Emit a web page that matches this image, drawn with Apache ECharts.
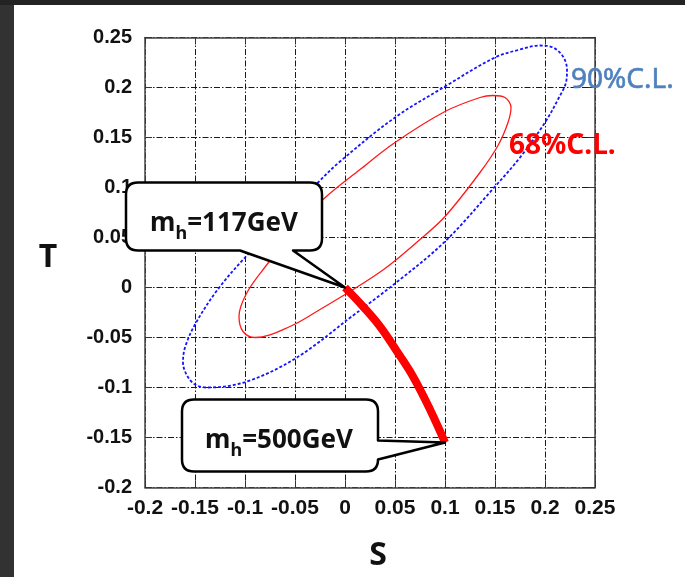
<!DOCTYPE html>
<html>
<head>
<meta charset="utf-8">
<script src="https://cdn.jsdelivr.net/npm/echarts@6/dist/echarts.min.js"></script>
<style>
  html, body { margin: 0; padding: 0; background: #fff; }
  #main { width: 685px; height: 577px; }
</style>
</head>
<body>
<div id="main"></div>
<script>
// 坐标轴刻度
const sTicks = [-0.2, -0.15, -0.1, -0.05, 0, 0.05, 0.1, 0.15, 0.2, 0.25]
const tTicks = [-0.2, -0.15, -0.1, -0.05, 0, 0.05, 0.1, 0.15, 0.2, 0.25]

// 68%C.L. 椭圆 (从图上读的点)
const cl68S = [0.000, 0.040, 0.075, 0.100, 0.135, 0.153, 0.163, 0.166, 0.160, 0.148, 0.135, 0.100, 0.050, 0.015, -0.022, -0.050, -0.078, -0.098, -0.106, -0.102, -0.090, -0.055, -0.025, 0.000]
const cl68T = [-0.007, 0.019, 0.048, 0.071, 0.115, 0.142, 0.165, 0.180, 0.190, 0.192, 0.190, 0.176, 0.145, 0.118, 0.088, 0.058, 0.023, -0.005, -0.029, -0.044, -0.050, -0.039, -0.022, -0.007]

// 90%C.L. 椭圆
const cl90S = [0.000, 0.050, 0.100, 0.150, 0.175, 0.200, 0.214, 0.221, 0.222, 0.218, 0.208, 0.195, 0.175, 0.150, 0.100, 0.050, -0.005, -0.028, -0.055, -0.100, -0.128, -0.150, -0.160, -0.162, -0.158, -0.150, -0.138, -0.098, -0.048, 0.000]
const cl90T = [-0.034, 0.004, 0.046, 0.101, 0.130, 0.165, 0.190, 0.205, 0.218, 0.231, 0.240, 0.242, 0.238, 0.230, 0.201, 0.170, 0.126, 0.104, 0.076, 0.030, -0.003, -0.037, -0.060, -0.075, -0.088, -0.097, -0.100, -0.094, -0.070, -0.034]

// 希格斯质量 117GeV -> 500GeV 的轨迹
const pathS = [0, 0.018, 0.035, 0.052, 0.068, 0.085, 0.100]
const pathT = [0, -0.019, -0.039, -0.064, -0.089, -0.122, -0.155]
const calloutMass = ['117', '500']

const zip = (xs, ys) => xs.map((x, i) => [x, ys[i]])

// 气泡框的形状 (相对尖端的像素偏移)
const calloutBoxes = [
  { side: 'bottom', x0: -219, x1: -23, y0: -105, y1: -37, pa: -105, pb: -52, tx: -121, ty: -64 },
  { side: 'right', x0: -263, x1: -67, y0: -43, y1: 29, pa: -2, pb: 17, tx: -166, ty: -2 }
]

function calloutPath(t, b) {
  const r = 12
  const x0 = t[0] + b.x0, x1 = t[0] + b.x1, y0 = t[1] + b.y0, y1 = t[1] + b.y1
  let d = `M${x0 + r} ${y0} L${x1 - r} ${y0} Q${x1} ${y0} ${x1} ${y0 + r} `
  if (b.side === 'right') {
    d += `L${x1} ${t[1] + b.pa} L${t[0]} ${t[1]} L${x1} ${t[1] + b.pb} `
  }
  d += `L${x1} ${y1 - r} Q${x1} ${y1} ${x1 - r} ${y1} `
  if (b.side === 'bottom') {
    d += `L${t[0] + b.pb} ${y1} L${t[0]} ${t[1]} L${t[0] + b.pa} ${y1} `
  }
  d += `L${x0 + r} ${y1} Q${x0} ${y1} ${x0} ${y1 - r} L${x0} ${y0 + r} Q${x0} ${y0} ${x0 + r} ${y0} Z`
  return d
}

function renderCallout(params, api) {
  const tip = api.coord([api.value(0), api.value(1)])
  const b = calloutBoxes[params.dataIndex]
  return {
    type: 'group',
    children: [
      {
        type: 'path',
        shape: { pathData: calloutPath(tip, b) },
        style: { fill: '#fff', stroke: '#000', lineWidth: 2.5, lineJoin: 'round' }
      },
      {
        type: 'text',
        x: tip[0] + b.tx,
        y: tip[1] + b.ty,
        style: {
          text: `{m|m}{h|h}{m|=${calloutMass[params.dataIndex]}GeV}`,
          align: 'center',
          verticalAlign: 'middle',
          rich: {
            m: { fontSize: 26, fontWeight: 'bold', fontFamily: 'Noto Sans', fill: '#111', lineHeight: 26, verticalAlign: 'top' },
            h: { fontSize: 18, fontWeight: 'bold', fontFamily: 'Noto Sans', fill: '#111', lineHeight: 18, padding: [14, 0, 0, 0], verticalAlign: 'top' }
          }
        }
      }
    ]
  }
}

const tickFmt = v => String(+v.toFixed(2))
const gridLine = { show: true, lineStyle: { color: '#1a1a1a', width: 1, type: [6, 2, 1.5, 2] } }
const frame = { show: true, onZero: false, lineStyle: { color: '#444', width: 1.5 } }
const innerTick = { show: true, inside: true, length: 7, lineStyle: { color: '#333', width: 1 } }

const myChart = echarts.init(document.querySelector('#main'))

const option = {
  animation: false,
  backgroundColor: '#fff',
  grid: { left: 145, top: 37.5, width: 450, height: 450 },
  xAxis: [
    {
      type: 'value', position: 'bottom',
      min: sTicks[0], max: sTicks[sTicks.length - 1], interval: 0.05,
      axisLine: frame, axisTick: innerTick, splitLine: gridLine,
      axisLabel: { formatter: tickFmt, margin: 10, color: '#111', fontSize: 21, fontWeight: 'bold', fontFamily: 'Liberation Sans' }
    },
    {
      type: 'value', position: 'top',
      min: sTicks[0], max: sTicks[sTicks.length - 1], interval: 0.05,
      axisLine: frame, axisTick: innerTick, splitLine: { show: false }, axisLabel: { show: false }
    }
  ],
  yAxis: [
    {
      type: 'value', position: 'left',
      min: tTicks[0], max: tTicks[tTicks.length - 1], interval: 0.05,
      axisLine: frame, axisTick: innerTick, splitLine: gridLine,
      axisLabel: { formatter: tickFmt, margin: 13, color: '#111', fontSize: 20, fontWeight: 'bold', fontFamily: 'Liberation Sans' }
    },
    {
      type: 'value', position: 'right',
      min: tTicks[0], max: tTicks[tTicks.length - 1], interval: 0.05,
      axisLine: frame, axisTick: innerTick, splitLine: { show: false }, axisLabel: { show: false }
    }
  ],
  graphic: [
    { type: 'rect', shape: { x: 0, y: 0, width: 14, height: 577 }, style: { fill: '#323232' }, silent: true },
    { type: 'rect', shape: { x: 0, y: 0, width: 685, height: 5 }, style: { fill: '#232323' }, silent: true },
    { type: 'text', x: 48, y: 258, style: { text: 'T', fontSize: 32, fontWeight: 'bold', fontFamily: 'Noto Sans', fill: '#111', align: 'center', verticalAlign: 'middle' } },
    { type: 'text', x: 378, y: 556, style: { text: 'S', fontSize: 32, fontWeight: 'bold', fontFamily: 'Noto Sans', fill: '#111', align: 'center', verticalAlign: 'middle' } },
    { type: 'text', x: 571, y: 80, z: 10, style: { text: '90%C.L.', fontSize: 28, fontFamily: 'Noto Sans', fill: '#4f81bd', stroke: '#4f81bd', lineWidth: 0.6, align: 'left', verticalAlign: 'middle' } },
    { type: 'text', x: 509, y: 146, z: 10, style: { text: '68%C.L.', fontSize: 28, fontWeight: 'bold', fontFamily: 'Noto Sans', fill: '#ff0000', align: 'left', verticalAlign: 'middle' } }
  ],
  series: [
    {
      name: '90%C.L.', type: 'line', data: zip(cl90S, cl90T),
      smooth: 0.35, showSymbol: false, z: 3,
      lineStyle: { color: '#1414ff', width: 1.8, type: [3, 2] }
    },
    {
      name: '68%C.L.', type: 'line', data: zip(cl68S, cl68T),
      smooth: 0.35, showSymbol: false, z: 4,
      lineStyle: { color: '#ff1a1a', width: 1.3 }
    },
    {
      name: 'mh', type: 'line', data: zip(pathS, pathT),
      smooth: 0.4, showSymbol: false, z: 5,
      lineStyle: { color: '#ff0000', width: 8 }
    },
    {
      name: 'callout', type: 'custom', clip: false, z: 20,
      data: [[pathS[0], pathT[0]], [pathS[pathS.length - 1], pathT[pathT.length - 1]]],
      renderItem: renderCallout
    }
  ]
}

myChart.setOption(option)
</script>
</body>
</html>
